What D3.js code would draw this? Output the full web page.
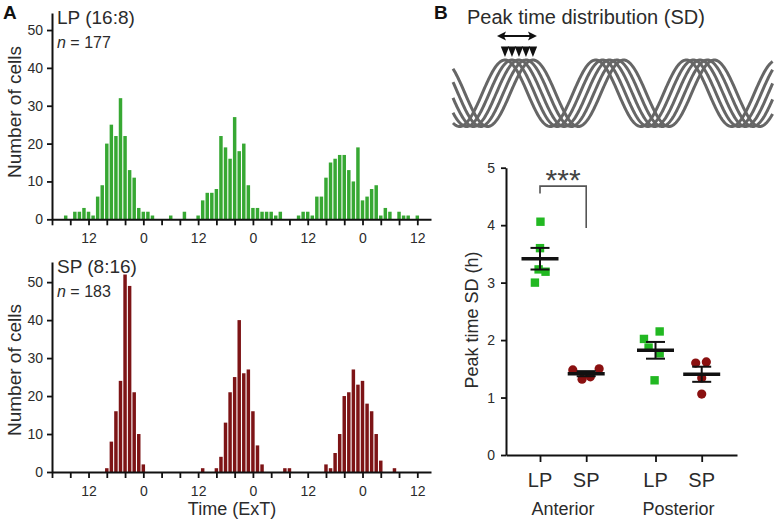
<!DOCTYPE html>
<html><head><meta charset="utf-8">
<script src="https://cdn.jsdelivr.net/npm/d3@7"></script>
<style>
body{margin:0;background:#fff}
svg text{font-family:"Liberation Sans",Arial,Helvetica,sans-serif}
</style>
</head><body>
<svg id="c" width="774" height="521"></svg>
<script>
// ---------------- DATA ----------------
// Histogram A: counts per 1-h bin of peak time, ExT hours (bins start at given hour)
const lpTitle = "LP (16:8)";
const lpN = 177;
const lpStartHour = 7;
const lpCounts = [1,0,2,2,3,2,1,6,9,20,25,22,32,22,13,11,3,2,2,1,0,0,0,1,0,0,2,0,0,1,
  5,7,7,8,22,19,16,27,18,20,9,3,3,2,2,2,1,2,0,0,0,1,2,2,1,6,6,11,15,16,17,17,13,10,19,
  5,6,8,9,1,3,2,0,2,1,1,0,1];
const spTitle = "SP (8:16)";
const spN = 183;
const spStartHour = 16;
const spCounts = [1,8,16,24,52,49,21,10,2,0,0,0,0,0,0,0,0,0,0,0,0,1,0,0,1,4,13,21,25,40,
  26,27,16,7,2,0,0,0,0,1,1,0,0,0,0,0,0,0,2,1,5,10,20,21,27,23,24,18,16,10,3,0,0,1];
const histYTicks = [0,10,20,30,40,50];
const histXTickHours = d3.range(4, 85, 4);

// Panel B schematic: phase shifts (h) of the five oscillators
const waveShifts = [0, 1.85, 3.7, 5.55, 7.4];

// Panel B scatter: peak time SD (h)
const scatterGroups = ["Anterior","Anterior","Posterior","Posterior"];
const scatterPhotoperiods = ["LP","SP","LP","SP"];
const scatterValues = [
  [4.06, 3.60, 3.23, 3.19, 3.00],
  [1.48, 1.32, 1.36, 1.50],
  [2.02, 2.15, 1.87, 1.77, 1.30],
  [1.60, 1.62, 1.34, 1.06]
];
const scatterJitter = [
  [0.01, 0.0, -0.03, 0.12, -0.11],
  [-0.29, -0.09, 0.09, 0.28],
  [-0.25, 0.09, -0.15, 0.09, -0.02],
  [-0.13, 0.10, 0.0, 0.0]
];
const scatterYTicks = [0,1,2,3,4,5];

// ---------------- DRAW ----------------
const svg = d3.select("#c");
const green = "#37a833", darkRed = "#7d1416";
const textCol = "#2b2b2b";

svg.append("text").attr("x",3).attr("y",18.5).attr("font-size",19).attr("font-weight","bold").attr("fill","#111").text("A");
svg.append("text").attr("x",434).attr("y",18.5).attr("font-size",19).attr("font-weight","bold").attr("fill","#111").text("B");

const xH = d3.scaleLinear().domain([4, 87]).range([52, 431]);

function styleAxis(g){
  g.select(".domain").attr("stroke","#111").attr("stroke-width",2);
  g.selectAll(".tick line").attr("stroke","#111").attr("stroke-width",1.8);
  g.selectAll(".tick text").attr("font-size",14).attr("fill",textCol)
    .attr("font-family",'"Liberation Sans",Arial,sans-serif');
}

function histogram(cfg){
  const g = svg.append("g");
  const y = d3.scaleLinear().domain([0, cfg.yMax]).range([cfg.y0, cfg.yTop]);
  const data = cfg.counts.map((c,i)=>({h: cfg.start+i, c})).filter(d=>d.c>0);
  const bw = (xH(1)-xH(0))*0.76;
  g.selectAll("rect").data(data).join("rect")
    .attr("x", d=>xH(d.h)-bw/2).attr("width", bw)
    .attr("y", d=>y(d.c)).attr("height", d=>y(0)-y(d.c))
    .attr("fill", cfg.color);
  const ya = g.append("g").attr("transform",`translate(${xH.range()[0]},0)`)
    .call(d3.axisLeft(y).tickValues(histYTicks).tickSize(5).tickPadding(4).tickSizeOuter(0));
  styleAxis(ya);
  const xa = g.append("g").attr("transform",`translate(0,${cfg.y0})`)
    .call(d3.axisBottom(xH).tickValues(histXTickHours).tickSize(6).tickPadding(8).tickSizeOuter(0)
      .tickFormat(h => h%24===12 ? "12" : (h%24===0 ? "0" : "")));
  styleAxis(xa);
  g.append("text").attr("x",57).attr("y",cfg.yTop+10.5).attr("font-size",19).attr("fill",textCol).text(cfg.title);
  const nt = g.append("text").attr("x",57).attr("y",cfg.yTop+35).attr("font-size",16).attr("fill",textCol);
  nt.append("tspan").attr("font-style","italic").text("n");
  nt.append("tspan").text(" = " + cfg.n);
  g.append("text").attr("transform",`translate(20.5,${cfg.labelY}) rotate(-90)`)
    .attr("text-anchor","middle").attr("font-size",19).attr("fill",textCol).text("Number of cells");
}

histogram({counts: lpCounts, start: lpStartHour, color: green, y0: 219.3, yTop: 13, yMax: 54.5, title: lpTitle, n: lpN, labelY: 112});
histogram({counts: spCounts, start: spStartHour, color: darkRed, y0: 472, yTop: 262, yMax: 55.3, title: spTitle, n: spN, labelY: 370});

svg.append("text").attr("x", 232).attr("y", 515)
  .attr("text-anchor","middle").attr("font-size",18).attr("fill",textCol).text("Time (ExT)");

// ---------------- Panel B schematic ----------------
svg.append("text").attr("x",467).attr("y",23.5).attr("font-size",20).attr("fill",textCol).text("Peak time distribution (SD)");
const xw = d3.scaleLinear().domain([0, 84.7]).range([453, 773]);
const yw = d3.scaleLinear().domain([-1, 1]).range([126.5, 60]);
const basePeak = 13.76;
const hs = d3.range(0, 84.71, 0.2);
const line = d3.line().x(d=>xw(d[0])).y(d=>yw(d[1])).curve(d3.curveLinear);
svg.append("g").selectAll("path").data(waveShifts).join("path")
  .attr("d", s => line(hs.map(h => [h, Math.cos(2*Math.PI*(h - basePeak - s)/24)])))
  .attr("fill","none").attr("stroke","#666").attr("stroke-width",3);
// triangles at peaks
svg.append("g").selectAll("path").data(waveShifts).join("path")
  .attr("d", s => { const px = xw(basePeak + s); return `M${px-4.2},46.5L${px+4.2},46.5L${px},57Z`; })
  .attr("fill","#111");
// double arrow
{
  const x1 = xw(basePeak + waveShifts[0]) - 8, x2 = xw(basePeak + waveShifts[waveShifts.length-1]) + 4;
  const ya = 36;
  svg.append("line").attr("x1",x1+5).attr("x2",x2-5).attr("y1",ya).attr("y2",ya).attr("stroke","#111").attr("stroke-width",2);
  svg.append("path").attr("d",`M${x1},${ya}L${x1+9},${ya-4.5}L${x1+7},${ya}L${x1+9},${ya+4.5}Z`).attr("fill","#111");
  svg.append("path").attr("d",`M${x2},${ya}L${x2-9},${ya-4.5}L${x2-7},${ya}L${x2-9},${ya+4.5}Z`).attr("fill","#111");
}

// ---------------- Panel B scatter ----------------
const groupNames = Array.from(new Set(scatterGroups));
const slot = scatterGroups.map((g,i) => i + groupNames.indexOf(g)*0.5);
const xs = d3.scaleLinear().domain([-0.736, 4.264]).range([506, 737]);
const ys = d3.scaleLinear().domain([0,5]).range([455, 167.7]);

const sg = svg.append("g");
const yAx = sg.append("g").attr("transform","translate(506,0)")
  .call(d3.axisLeft(ys).tickValues(scatterYTicks).tickFormat(d3.format("d")).tickSize(5).tickPadding(6).tickSizeOuter(0));
styleAxis(yAx);
const xAx = sg.append("g").attr("transform","translate(0,455)")
  .call(d3.axisBottom(xs).tickValues(slot).tickSize(7).tickFormat("").tickSizeOuter(0));
styleAxis(xAx);

// points
scatterValues.forEach((vals, i) => {
  const isLP = scatterPhotoperiods[i] === "LP";
  const pts = vals.map((v,j) => ({x: slot[i] + scatterJitter[i][j], v}));
  if (isLP) {
    sg.append("g").selectAll("rect").data(pts).join("rect")
      .attr("x", d=>xs(d.x)-4.2).attr("y", d=>ys(d.v)-4.2).attr("width",8.4).attr("height",8.4)
      .attr("fill","#22b822");
  } else {
    sg.append("g").selectAll("circle").data(pts).join("circle")
      .attr("cx", d=>xs(d.x)).attr("cy", d=>ys(d.v)).attr("r",4.6)
      .attr("fill","#8a1010");
  }
});
// mean and SEM
scatterValues.forEach((vals, i) => {
  const m = d3.mean(vals), sem = d3.deviation(vals)/Math.sqrt(vals.length);
  const cx = xs(slot[i]);
  sg.append("line").attr("x1",cx).attr("x2",cx).attr("y1",ys(m-sem)).attr("y2",ys(m+sem)).attr("stroke","#111").attr("stroke-width",2);
  [m-sem, m+sem].forEach(v => sg.append("line").attr("x1",cx-9.5).attr("x2",cx+9.5).attr("y1",ys(v)).attr("y2",ys(v)).attr("stroke","#111").attr("stroke-width",2));
  sg.append("line").attr("x1",cx-18.5).attr("x2",cx+18.5).attr("y1",ys(m)).attr("y2",ys(m)).attr("stroke","#111").attr("stroke-width",3.5);
});

// category labels
scatterPhotoperiods.forEach((p,i) => {
  sg.append("text").attr("x", xs(slot[i])).attr("y", 487).attr("text-anchor","middle")
    .attr("font-size",20).attr("fill",textCol).text(p);
});
groupNames.forEach(gn => {
  const idx = scatterGroups.map((g,i)=>g===gn?i:-1).filter(i=>i>=0);
  const c = d3.mean(idx, i => xs(slot[i]));
  sg.append("text").attr("x", c).attr("y", 515).attr("text-anchor","middle")
    .attr("font-size",18).attr("fill",textCol).text(gn);
});
sg.append("text").attr("transform","translate(478,320) rotate(-90)").attr("text-anchor","middle")
  .attr("font-size",18).attr("fill",textCol).text("Peak time SD (h)");

// significance bracket
{
  const xa = xs(slot[0]), xb = xs(slot[1]);
  sg.append("path").attr("d",`M${xa},${ys(4.55)}V${ys(4.68)}H${xb}V${ys(3.95)}`)
    .attr("fill","none").attr("stroke","#555").attr("stroke-width",1.6);
  sg.append("text").attr("x",(xa+xb)/2).attr("y",190).attr("text-anchor","middle")
    .attr("font-size",30).attr("fill","#444").text("***");
}
</script>
</body></html>
